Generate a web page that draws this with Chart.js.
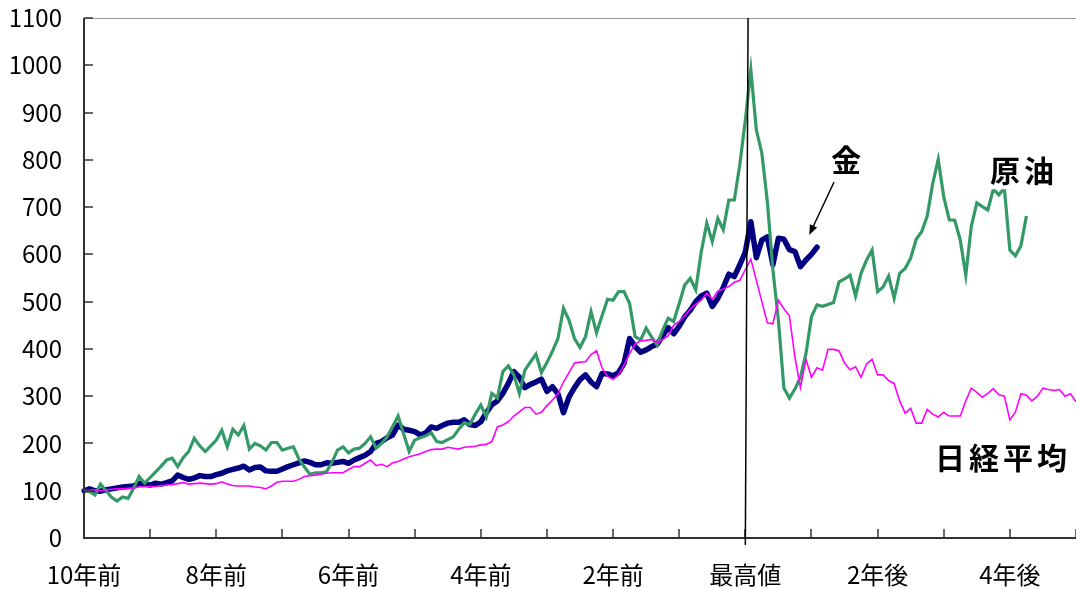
<!DOCTYPE html>
<html lang="ja">
<head>
<meta charset="utf-8">
<title>金・原油・日経平均</title>
<script src="https://cdn.jsdelivr.net/npm/chart.js@4.4.1/dist/chart.umd.min.js"></script>
<style>
  html, body { margin: 0; padding: 0; background: #fff; }
  #wrap { width: 1076px; height: 589px; }
</style>
</head>
<body>
<div id="wrap"><canvas id="chart" width="1076" height="589"></canvas></div>
<script>
// months from 10 years before the peak (0) to 5 years after (180)
const months = Array.from({ length: 181 }, (_, i) => i);

// x tick labels, one every 24 months
const xTickMonths = [0, 24, 48, 72, 96, 120, 144, 168];
const xTickLabels = ['10年前', '8年前', '6年前', '4年前', '2年前', '最高値', '2年後', '4年後'];

// index values (start = 100)
const gold = [
  100, 104, 100, 99, 102, 104, 106, 108, 109, 110,
  116, 114, 112, 116, 114, 117, 121, 133, 128, 124,
  127, 132, 130, 130, 134, 137, 142, 145, 148, 152,
  144, 149, 150, 142, 141, 141, 146, 151, 155, 159,
  163, 160, 155, 155, 159, 158, 160, 162, 158, 165,
  170, 175, 183, 200, 204, 212, 218, 239, 230, 228,
  225, 218, 222, 235, 232, 238, 243, 245, 245, 250,
  240, 238, 246, 265, 282, 290, 306, 327, 352, 340,
  318, 325, 330, 336, 310, 320, 305, 265, 298, 318,
  335, 345, 330, 320, 348, 347, 343, 350, 370, 422,
  405, 393, 398, 405, 410, 428, 445, 432, 448, 468,
  482, 500, 512, 518, 490, 507, 530, 558, 553, 578,
  605, 669, 593, 630, 637, 578, 634, 632, 610, 606,
  574, 588, 600, 615
];

const oil = [
  100, 98, 91, 114, 100, 86, 78, 87, 84, 105,
  130, 116, 128, 140, 152, 165, 169, 151, 170, 183,
  211, 195, 183, 195, 207, 228, 193, 230, 218, 238,
  188, 200, 195, 186, 202, 202, 186, 190, 193, 167,
  150, 135, 138, 138, 140, 160, 186, 193, 180, 188,
  190, 200, 214, 190, 200, 214, 236, 258, 220, 183,
  207, 212, 216, 223, 204, 202, 208, 214, 230, 244,
  240, 262, 281, 256, 306, 296, 352, 364, 345, 306,
  355, 372, 389, 350, 371, 395, 422, 486, 461, 422,
  403, 426, 479, 434, 470, 505, 503, 521, 521, 496,
  426, 419, 444, 425, 408, 440, 465, 458, 496, 535,
  549, 525, 605, 666, 627, 676, 652, 715, 715, 790,
  884, 990, 863, 814, 711, 567, 461, 317, 296, 315,
  340, 390, 468, 493, 490, 494, 498, 542, 548, 556,
  512, 560, 588, 609, 521, 531, 554, 507, 560, 570,
  592, 632, 648, 681, 750, 801, 722, 673, 672, 630,
  556, 659, 709, 701, 694, 738, 726, 740, 609, 597,
  618, 681
];

const nikkei = [
  100, 101, 102, 100, 102, 103, 104, 104, 105, 106,
  108, 109, 109, 109, 111, 112, 113, 115, 117, 114,
  115, 116, 115, 114, 115, 119, 114, 111, 110, 110,
  110, 108, 107, 104, 110, 118, 120, 120, 120, 124,
  130, 132, 133, 135, 137, 138, 138, 138, 145, 151,
  151, 158, 165, 153, 156, 151, 159, 162, 167, 172,
  175, 178, 183, 187, 188, 188, 192, 190, 188, 192,
  193, 194, 197, 198, 204, 235, 239, 246, 258, 267,
  276, 276, 262, 266, 280, 292, 305, 330, 350, 370,
  372, 373, 388, 396, 360, 342, 335, 345, 366, 390,
  410, 417, 418, 420, 413, 420, 428, 450, 458, 470,
  484, 494, 503, 518, 505, 522, 527, 532, 541, 545,
  568, 590, 545, 500, 455, 453, 503, 485, 470, 382,
  318, 378, 340, 360, 355, 399, 399, 396, 370, 356,
  362, 340, 368, 378, 345, 345, 333, 327, 290, 264,
  274, 243, 243, 272, 262, 256, 266, 258, 258, 258,
  290, 317, 308, 298, 306, 316, 303, 300, 250, 266,
  305, 302, 290, 300, 317, 314, 312, 314, 300, 305,
  288
];

const FONT = '"Noto Sans CJK JP", "Noto Sans", sans-serif';

// hand drawn extras: peak marker line, arrow and series labels
const peakLine = { top: 120.5, bottom: 120.0, below: -15 };
const goldArrow = { from: [136.1, 753], to: [131.6, 641] };
const seriesLabels = [
  { text: '金', month: 138.3, value: 800, backdrop: false },
  { text: '原油', month: 170.2, value: 778, backdrop: true },
  { text: '日経平均', month: 166.4, value: 171, backdrop: false }
];

function line(ctx, x1, y1, x2, y2) {
  ctx.beginPath();
  ctx.moveTo(x1, y1);
  ctx.lineTo(x2, y2);
  ctx.stroke();
}

const framePlugin = {
  id: 'frame',
  afterDraw(chart) {
    const { ctx, chartArea: a, scales: { x, y } } = chart;
    ctx.save();

    // top border
    ctx.strokeStyle = '#999';
    ctx.lineWidth = 1;
    line(ctx, a.left, a.top + 0.5, a.right, a.top + 0.5);

    // axes
    ctx.strokeStyle = '#333';
    ctx.lineWidth = 2;
    line(ctx, a.left, a.top, a.left, a.bottom + 1);
    line(ctx, a.left, a.bottom, a.right, a.bottom);

    // inward tick marks
    ctx.lineWidth = 1.5;
    for (let v = 0; v <= 1100; v += 100) {
      const py = Math.round(y.getPixelForValue(v));
      line(ctx, a.left, py, a.left + 9, py);
    }
    for (let m = 12; m <= 180; m += 12) {
      const px = Math.round(x.getPixelForValue(m));
      line(ctx, px, a.bottom, px, a.bottom - 9);
    }

    // peak marker line
    ctx.strokeStyle = '#000';
    ctx.lineWidth = 1.5;
    line(ctx, x.getPixelForValue(peakLine.top), a.top,
      x.getPixelForValue(peakLine.bottom), y.getPixelForValue(peakLine.below));

    // arrow to the gold line
    const x1 = x.getPixelForValue(goldArrow.from[0]), y1 = y.getPixelForValue(goldArrow.from[1]);
    const x2 = x.getPixelForValue(goldArrow.to[0]), y2 = y.getPixelForValue(goldArrow.to[1]);
    const ang = Math.atan2(y2 - y1, x2 - x1);
    ctx.lineWidth = 1.5;
    line(ctx, x1, y1, x2 - 6 * Math.cos(ang), y2 - 6 * Math.sin(ang));
    ctx.fillStyle = '#000';
    ctx.beginPath();
    ctx.moveTo(x2, y2);
    ctx.lineTo(x2 - 10 * Math.cos(ang) + 4 * Math.sin(ang), y2 - 10 * Math.sin(ang) - 4 * Math.cos(ang));
    ctx.lineTo(x2 - 10 * Math.cos(ang) - 4 * Math.sin(ang), y2 - 10 * Math.sin(ang) + 4 * Math.cos(ang));
    ctx.closePath();
    ctx.fill();

    // series labels, letter spaced
    const step = 34;
    ctx.font = 'bold 30px ' + FONT;
    ctx.textAlign = 'center';
    ctx.textBaseline = 'middle';
    seriesLabels.forEach(l => {
      const cx = x.getPixelForValue(l.month);
      const cy = y.getPixelForValue(l.value);
      const n = l.text.length;
      const start = cx - step * (n - 1) / 2;
      if (l.backdrop) {
        ctx.fillStyle = '#fff';
        ctx.fillRect(start - 20, cy - 20, step * (n - 1) + 40, 39);
      }
      ctx.fillStyle = '#000';
      for (let i = 0; i < n; i++) {
        ctx.fillText(l.text[i], start + i * step, cy);
      }
    });

    ctx.restore();
  }
};

new Chart(document.getElementById('chart'), {
  type: 'line',
  data: {
    labels: months,
    datasets: [
      {
        label: '日経平均',
        data: nikkei,
        borderColor: '#ff00ff',
        borderWidth: 1.6,
        pointRadius: 0,
        tension: 0
      },
      {
        label: '原油',
        data: oil,
        borderColor: '#339966',
        borderWidth: 3.2,
        pointRadius: 0,
        tension: 0
      },
      {
        label: '金',
        data: gold,
        borderColor: '#000080',
        borderWidth: 5.5,
        borderJoinStyle: 'round',
        borderCapStyle: 'round',
        pointRadius: 0,
        tension: 0
      }
    ]
  },
  options: {
    responsive: false,
    animation: false,
    devicePixelRatio: 1,
    layout: { padding: { top: 18, right: 0, bottom: 0, left: 0 } },
    plugins: {
      legend: { display: false },
      tooltip: { enabled: false }
    },
    scales: {
      x: {
        type: 'category',
        grid: { display: false, drawTicks: false, tickLength: 0 },
        border: { display: false },
        ticks: {
          autoSkip: false,
          maxRotation: 0,
          minRotation: 0,
          padding: 22,
          color: '#000',
          font: { family: FONT, size: 24 },
          callback: (v, i) => {
            const k = xTickMonths.indexOf(i);
            return k >= 0 ? xTickLabels[k] : '';
          }
        },
        afterFit: s => {
          s.height = 51;
          s.paddingLeft = 0;
          s.paddingRight = 0;
        }
      },
      y: {
        min: 0,
        max: 1100,
        grid: { display: false, drawTicks: false, tickLength: 0 },
        border: { display: false },
        ticks: {
          stepSize: 100,
          padding: 22,
          color: '#000',
          font: { family: FONT, size: 24 },
          callback: v => String(v)
        },
        afterFit: s => {
          s.width = 84;
          s.paddingTop = 0;
          s.paddingBottom = 0;
        }
      }
    }
  },
  plugins: [framePlugin]
});
</script>
</body>
</html>
